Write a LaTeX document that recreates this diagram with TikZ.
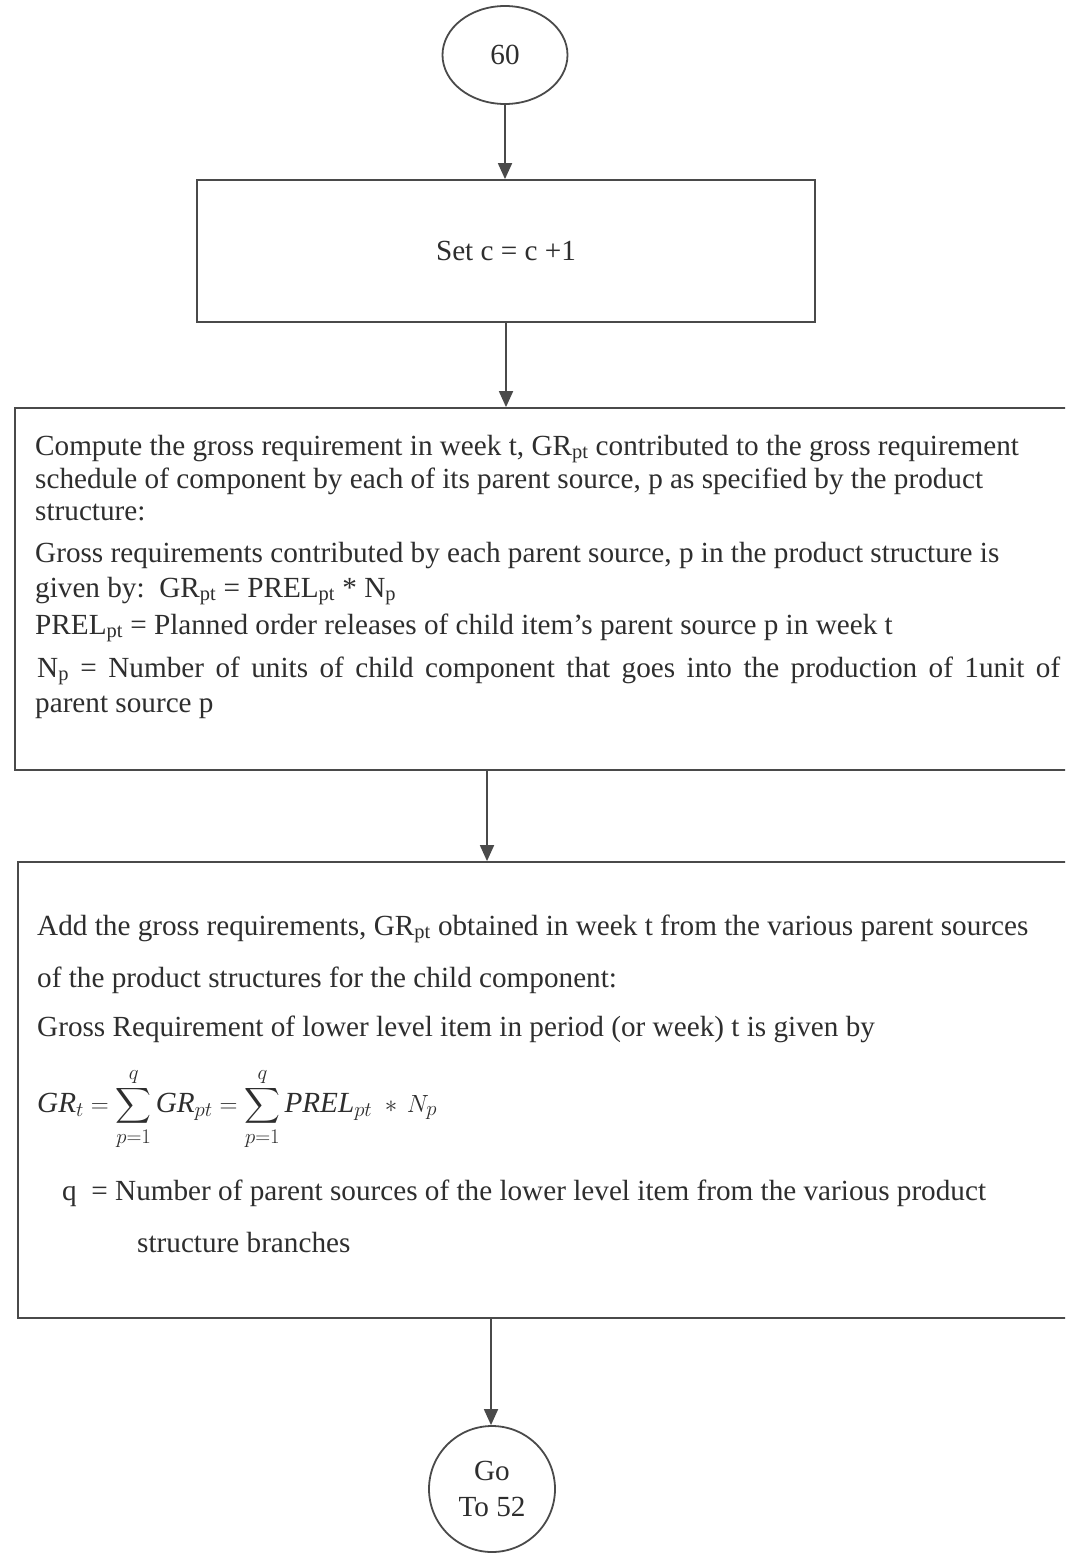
\documentclass[tikz,border=0pt]{standalone}
\usepackage{amsmath}
\usepackage{fontspec}
\setmainfont{Liberation Serif}
\usetikzlibrary{arrows.meta,shapes.geometric}
\definecolor{ink}{HTML}{2E2E2E}
\definecolor{rule}{HTML}{4A4A4A}
\newcommand{\sbs}[1]{\textsubscript{#1}}
\begin{document}
\begin{tikzpicture}[x=1pt,y=-1pt,
  every node/.style={text=ink},
  frame/.style={draw=rule,line width=1.8pt},
  flow/.style={draw=rule,line width=1.8pt,-{Triangle[length=16pt,width=14pt]}},
  txt/.style={anchor=base west,inner sep=0pt,font=\fontsize{29.2}{34}\selectfont},
  lbl/.style={font=\fontsize{29.2}{34}\selectfont}]
\useasboundingbox (0,0) rectangle (1065,1565);
\clip (0,0) rectangle (1065,1565);
\fill[white] (0,0) rectangle (1065,1565);

% boxes and terminals of the chart
\node[frame,ellipse,minimum width=125pt,minimum height=98pt,inner sep=0pt,lbl] (start) at (505,55) {60};
\node[frame,rectangle,minimum width=618pt,minimum height=142pt,lbl] (inc) at (506,251) {Set c = c +1};
\node[frame,rectangle,minimum width=1080pt,minimum height=362pt,inner sep=0pt] (gross) at (555,589) {};
\node[frame,rectangle,minimum width=1080pt,minimum height=456pt,inner sep=0pt] (sum) at (558,1090) {};
\node[frame,circle,minimum size=126pt,inner sep=0pt,align=center,font=\fontsize{29.2}{36}\selectfont] (goto) at (492,1489) {Go\\To 52};

\draw[flow] (start.south) -- (start.south |- inc.north);
\draw[flow] (inc.south) -- (inc.south |- gross.north);
\coordinate (g2) at (487,770);
\draw[flow] (g2) -- (g2 |- sum.north);
\coordinate (s2) at (491,1318);
\draw[flow] (s2) -- (s2 |- goto.north);

% contribution of each parent source
\node[txt] (g1) at (35,455) {Compute the gross requirement in week t, GR\sbs{pt} contributed to the gross requirement};
\node[txt] (g2t) at (35,488) {schedule of component by each of its parent source, p as specified by the product};
\node[txt] (g3) at (35,520) {structure:};
\node[txt] (g4) at (35,562) {Gross requirements contributed by each parent source, p in the product structure is};
\node[txt] (g5) at (35,597) {given by:\ \ GR\sbs{pt} = PREL\sbs{pt} * N\sbs{p}};
\node[txt] (g6) at (35,634) {PREL\sbs{pt} = Planned order releases of child item's parent source p in week t};
\node[txt] (g7) at (37,677) {\makebox[1023pt][s]{N\sbs{p} = Number of units of child component that goes into the production of 1unit of}};
\node[txt] (g8) at (35,712) {parent source p};

% summation over the parent sources
\node[txt] (s1) at (37,935) {Add the gross requirements, GR\sbs{pt} obtained in week t from the various parent sources};
\node[txt] (s2t) at (37,987) {of the product structures for the child component:};
\node[txt] (s3) at (37,1036) {Gross Requirement of lower level item in period (or week) t is given by};
\node[txt] (s4) at (37,1112) {$\displaystyle \textit{GR}_{t} = \sum_{p=1}^{q}\textit{GR}_{pt} = \sum_{p=1}^{q}\textit{PREL}_{pt}\;*\,N_{p}$};
\node[txt] (s5) at (62,1200) {q\ \ = Number of parent sources of the lower level item from the various product};
\node[txt] (s6) at (137,1252) {structure branches};
\end{tikzpicture}
\end{document}
